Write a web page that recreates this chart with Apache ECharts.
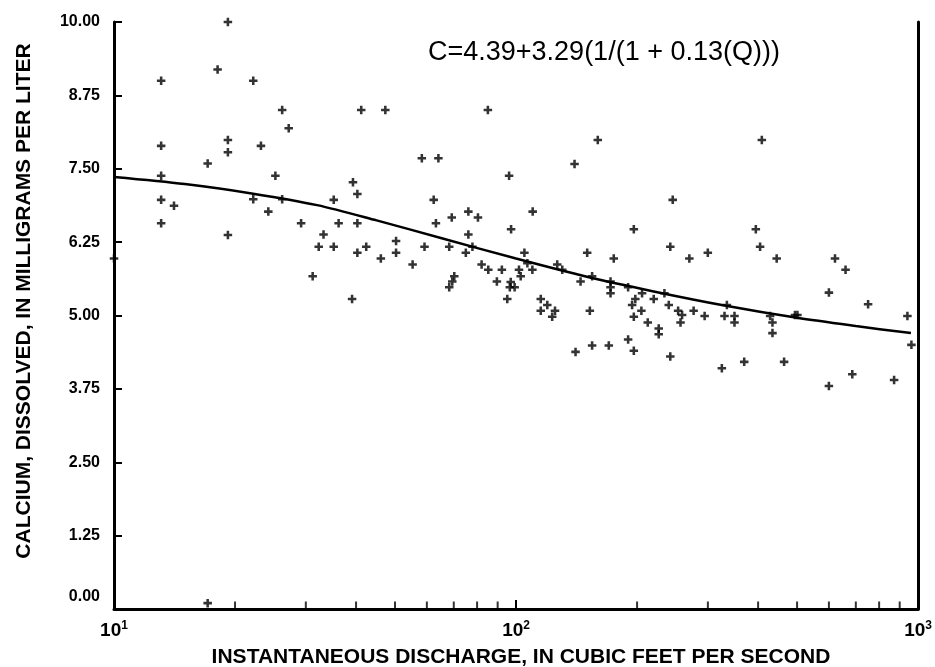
<!DOCTYPE html>
<html>
<head>
<meta charset="utf-8">
<script src="https://cdn.jsdelivr.net/npm/echarts@6/dist/echarts.min.js"></script>
<style>
html,body{margin:0;padding:0;background:#fff;}
#c{width:935px;height:667px;}
</style>
</head>
<body>
<div id="c"></div>
<script>
// ---- data ----
const obsQ = [
 13.1,18.1,22.2,26.2,27.2,19.2,13.1,23.2,19.2,17.1,13.1,25.2,13.1,22.2,26.2,14.1,24.2,13.1,29.2,19.2,31.2,10.0,19.2,17.1,
 41.2,47.3,85.1,159.7,58.3,64.1,139.8,96.1,39.3,40.3,35.2,62.4,110,69.2,76.1,80.4,36.2,40.3,63.2,97.2,33.2,76.1,32.3,35.2,50.3,42.4,
 40.3,50.3,59.2,68.2,75.0,77.9,104.9,106.7,109.8,150.3,175,46.1,55.3,82.1,85.3,92.2,101.7,102.7,89.6,97.0,70.2,69.4,126.6,130.3,144.7,154.6,171.8,
 68.2,96.5,99.2,39.1,95.1,115.2,119.6,115.2,125,123,152.6,171.8,171.8,140.6,154.6,170.1,
 190,205.8,198,194.4,220,233.9,239.8,205,196.3,212.6,226.4,226.4,253,258.8,256.5,276.5,294.5,334.5,330,349.4,349.4,428.5,434.3,434.3,494,501,600,751,940.6,962.5,
 190,196.3,241.9,325,369.4,464.2,600,686,871.6,
 408.6,245.3,196.3,394.8,241.9,404.6,269.8,299.9,444.9,621.3,660
];
const obsC = [
 9.00,9.19,9.00,8.50,8.19,7.99,7.89,7.89,7.78,7.59,7.38,7.38,6.97,6.98,6.98,6.87,6.77,6.57,6.57,6.37,5.67,5.97,10.0,0.10,
 8.50,8.50,8.50,7.99,7.68,7.68,7.58,7.38,7.27,7.07,6.97,6.97,6.77,6.67,6.77,6.67,6.57,6.57,6.57,6.47,6.38,6.38,6.17,6.17,6.27,6.17,
 6.07,6.07,6.17,6.17,6.07,6.17,6.07,5.89,5.78,6.07,5.97,5.97,5.87,5.87,5.78,5.78,5.78,5.67,5.58,5.57,5.67,5.58,5.87,5.78,5.58,5.67,5.58,
 5.48,5.48,5.48,5.28,5.28,5.28,5.18,5.08,5.08,4.98,5.08,5.48,5.38,4.38,4.49,4.49,
 5.48,5.38,5.28,5.18,5.28,5.38,5.18,5.08,4.98,4.88,4.78,4.68,5.08,5.01,4.88,5.08,4.99,5.18,4.99,4.99,4.88,4.99,4.88,4.70,5.01,5.01,5.39,5.19,4.99,4.50,
 4.59,4.40,4.30,4.10,4.21,4.21,3.80,4.00,3.90,
 7.99,6.97,6.47,6.47,6.17,6.17,5.97,6.07,5.97,5.97,5.78
];
const fitQ = [10, 15, 22, 32, 45, 65, 100, 150, 220, 330, 500, 700, 960];
const fitC = [7.36, 7.24, 7.08, 6.88, 6.62, 6.32, 5.97, 5.66, 5.41, 5.17, 4.96, 4.82, 4.70];
const xMinorTicks = [20,30,40,50,60,70,80,90,200,300,400,500,600,700,800,900];
const yTickLabels = ['0.00','1.25','2.50','3.75','5.00','6.25','7.50','8.75','10.00'];
const formulaText = 'C=4.39+3.29(1/(1 + 0.13(Q)))';
const yTitle = 'CALCIUM, DISSOLVED, IN MILLIGRAMS PER LITER';
const xTitle = 'INSTANTANEOUS DISCHARGE, IN CUBIC FEET PER SECOND';

// ---- chart ----
const FONT = 'Liberation Sans, Arial, Helvetica, sans-serif';
const chart = echarts.init(document.getElementById('c'), null, {renderer:'canvas'});
const plus = 'path://M3.5,0H6.5V3.5H10V6.5H6.5V10H3.5V6.5H0V3.5H3.5Z';

const option = {
  backgroundColor: '#fff',
  animation: false,
  grid: {left:114, right:15, top:22, bottom:58, containLabel:false},
  xAxis: {
    type:'log', logBase:10, min:10, max:1000,
    axisLine:{show:true, onZero:false, lineStyle:{color:'#000', width:3}},
    axisTick:{show:true, inside:true, length:9, lineStyle:{color:'#000', width:2}},
    splitLine:{show:false},
    minorTick:{show:false},
    axisLabel:{
      margin:11, color:'#000',
      formatter: v => '{b|10}{s|' + Math.round(Math.log10(v)) + '}',
      rich:{
        b:{fontSize:19, fontWeight:'bold', fontFamily:FONT, color:'#000'},
        s:{fontSize:12, fontWeight:'bold', fontFamily:FONT, color:'#000', verticalAlign:'bottom', padding:[0,0,9,0]}
      }
    }
  },
  yAxis: [{
    type:'value', min:0, max:10, interval:1.25,
    axisLine:{show:true, onZero:false, lineStyle:{color:'#000', width:3}},
    axisTick:{show:true, inside:true, length:8, lineStyle:{color:'#000', width:2}},
    splitLine:{show:false},
    axisLabel:{
      margin:14, color:'#000', fontSize:16, fontWeight:'bold', fontFamily:FONT,
      formatter: v => {
        const i = Math.round(v/1.25);
        const t = yTickLabels[i];
        return i === 0 ? '{z|' + t + '}' : t;
      },
      rich:{ z:{fontSize:16, fontWeight:'bold', fontFamily:FONT, color:'#000', padding:[0,0,24,0]} }
    }
  },{
    type:'value', min:0, max:10, position:'right',
    axisLine:{show:true, onZero:false, lineStyle:{color:'#000', width:3}},
    axisTick:{show:false}, axisLabel:{show:false}, splitLine:{show:false}
  }],
  series: [
    {
      type:'scatter', name:'obs',
      data: obsQ.map((q,i)=>[q, obsC[i]]),
      symbol: plus, symbolSize: 8.5,
      itemStyle:{color:'#000'},
      clip:false, silent:true, z:3
    },
    {
      type:'line', name:'fit',
      data: fitQ.map((q,i)=>[q, fitC[i]]),
      smooth:0.3, showSymbol:false, symbol:'none',
      lineStyle:{color:'#000', width:2.5},
      silent:true, z:4
    },
    {
      type:'scatter', name:'minorTicks',
      data: xMinorTicks.map(q=>[q,0]),
      symbol:'rect', symbolSize:[2,7], symbolOffset:[0,-4],
      itemStyle:{color:'#000'}, clip:false, silent:true, z:5
    }
  ],
  graphic: [
    {type:'text', x:428, y:53, silent:true,
      style:{text:formulaText, fill:'#000', fontSize:27, fontFamily:FONT, align:'left', verticalAlign:'middle'}},
    {type:'text', x:24, y:301, rotation:Math.PI/2, silent:true,
      style:{text:yTitle, fill:'#000', fontSize:21, fontWeight:'bold', fontFamily:FONT, align:'center', verticalAlign:'middle'}},
    {type:'text', x:521, y:657, silent:true,
      style:{text:xTitle, fill:'#000', fontSize:21, fontWeight:'bold', fontFamily:FONT, align:'center', verticalAlign:'middle'}}
  ]
};
chart.setOption(option);
</script>
</body>
</html>
